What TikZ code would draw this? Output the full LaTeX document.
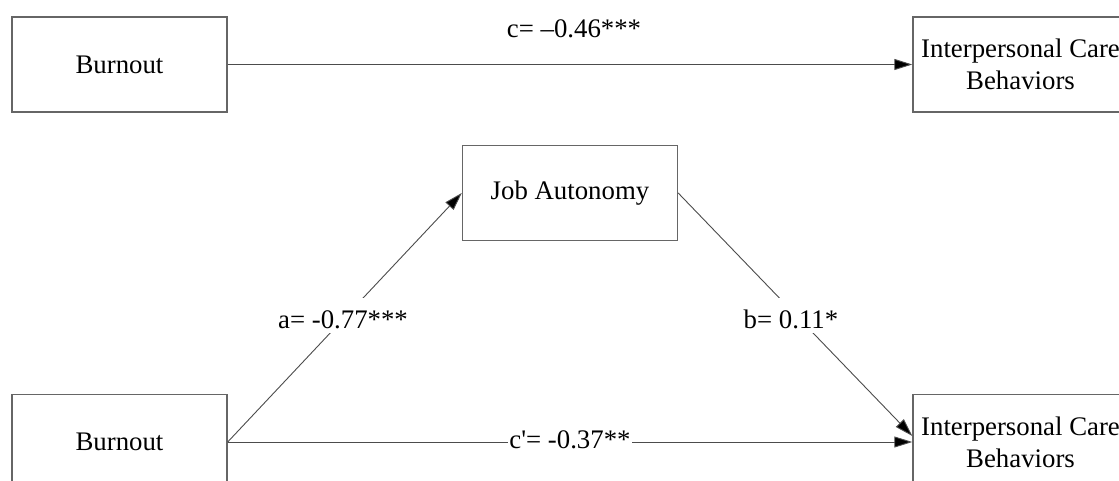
\documentclass[tikz,border=0pt]{standalone}
\usepackage{fontspec}
\setmainfont{Liberation Serif}
\usetikzlibrary{arrows.meta,calc}
\begin{document}
\begin{tikzpicture}[x=1pt,y=-1pt,
  box/.style={draw=black!60,line width=1.4pt,fill=white,minimum width=215pt,minimum height=95pt,inner sep=0pt,align=center,font=\fontsize{26.8}{32}\selectfont},
  conn/.style={draw=black!70,line width=0.9pt,-{Triangle[length=18pt,width=11pt,fill=black]}},
  lbl/.style={font=\fontsize{26.8}{32}\selectfont,anchor=base,inner xsep=1pt,inner ysep=0pt,text height=30pt,text depth=5pt,fill=white}]
\clip (0,0) rectangle (1119,481);
\fill[white] (0,0) rectangle (1119,481);
\node[box] (b1) at (119.5,64.5) {Burnout};
\node[box] (i1) at (1020.5,64.5) {Interpersonal Care\\Behaviors};
\node[box] (ja) at (570,193) {Job Autonomy};
\node[box] (b2) at (119.5,442) {Burnout};
\node[box] (i2) at (1020.5,442) {Interpersonal Care\\Behaviors};
\coordinate (i2b) at ($(i2.west)+(0,-6)$);
\draw[conn] (b1.east) -- (i1.west);
\node[lbl,fill=none] (lc) at (574,38) {c= –0.46***};
\draw[conn] (b2.east) -- (ja.west);
\draw[conn] (ja.east) -- (i2b);
\draw[conn] (b2.east) -- (i2.west);
\node[lbl] (la) at (343,328) {a= -0.77***};
\node[lbl] (lb) at (791,328) {b= 0.11*};
\node[lbl,text height=20pt,text depth=2pt] (lcp) at (570,448) {c\textquotesingle= -0.37**};
\end{tikzpicture}
\end{document}
